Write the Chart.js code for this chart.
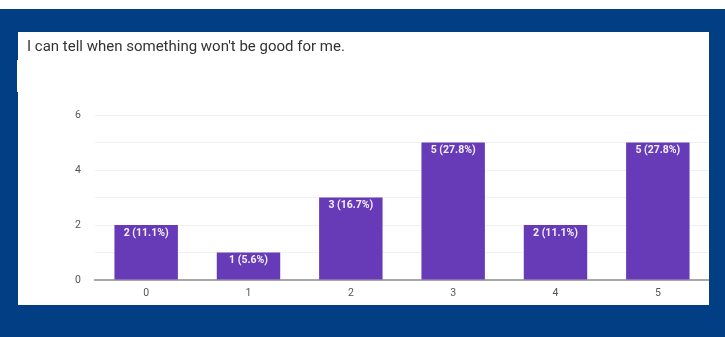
<!DOCTYPE html>
<html>
<head>
<meta charset="utf-8">
<script src="https://cdn.jsdelivr.net/npm/chart.js@4/dist/chart.umd.min.js"></script>
<style>
  html, body { margin: 0; padding: 0; background: #fff; }
  #frame { position: absolute; left: 0; top: 9px; width: 725px; height: 328px; background: #023e84; }
  #panel { position: absolute; left: 18px; top: 32px; width: 691px; height: 273px; background: #fff; }
  #notch { position: absolute; left: 17px; top: 60px; width: 2px; height: 32px; background: #fff; }
  #title { position: absolute; left: 9px; top: 5px; font: 15px Roboto, Arial, sans-serif; color: #333; white-space: nowrap; }
  #chart { position: absolute; left: 0; top: 0; }
</style>
</head>
<body>
<div id="frame"></div>
<div id="notch"></div>
<div id="panel">
  <canvas id="chart" width="691" height="273"></canvas>
  <div id="title">I can tell when something won't be good for me.</div>
</div>
<script>
var categories = ["0", "1", "2", "3", "4", "5"]
var counts = [2, 1, 3, 5, 2, 5]
var yTicks = [0, 2, 4, 6]

var total = counts.reduce(function(a, b) { return a + b }, 0)

// writes "n (p%)" just inside the top of every bar
var barLabels = {
	id: "barLabels",
	afterDatasetsDraw: function(chart) {
		var ctx = chart.ctx
		var meta = chart.getDatasetMeta(0)
		ctx.save()
		ctx.fillStyle = "#f4f0fb"
		ctx.font = "bold 10.5px Roboto, Arial, sans-serif"
		ctx.textAlign = "center"
		ctx.textBaseline = "top"
		meta.data.forEach(function(bar, i) {
			var v = counts[i]
			var txt = v + " (" + (v / total * 100).toFixed(1) + "%)"
			ctx.fillText(txt, bar.x, bar.y + 3)
		})
		ctx.restore()
	}
}

new Chart(document.getElementById("chart"), {
	type: "bar",
	data: {
		labels: categories,
		datasets: [{
			data: counts,
			backgroundColor: "#673ab7",
			borderWidth: 0,
			barPercentage: 0.62,
			categoryPercentage: 1
		}]
	},
	options: {
		responsive: false,
		animation: false,
		layout: { padding: { top: 83, right: 0, bottom: 0, left: 0 } },
		plugins: { legend: { display: false }, tooltip: { enabled: false } },
		scales: {
			x: {
				grid: { display: false, drawTicks: false },
				border: { color: "#a8a8a8", width: 2 },
				ticks: { color: "#555", font: { size: 10.5, family: "Roboto, Arial, sans-serif" }, padding: 7 },
				afterFit: function(scale) { scale.height = 25 }
			},
			y: {
				min: 0,
				max: 6,
				grid: { color: "#f0f0f0", drawTicks: false },
				border: { display: false },
				ticks: {
					stepSize: 1,
					color: "#555",
					padding: 14,
					font: { size: 10.5, family: "Roboto, Arial, sans-serif" },
					callback: function(v) { return yTicks.indexOf(v) >= 0 ? v : "" }
				},
				afterFit: function(scale) { scale.width = 77 }
			}
		}
	},
	plugins: [barLabels]
})
</script>
</body>
</html>
